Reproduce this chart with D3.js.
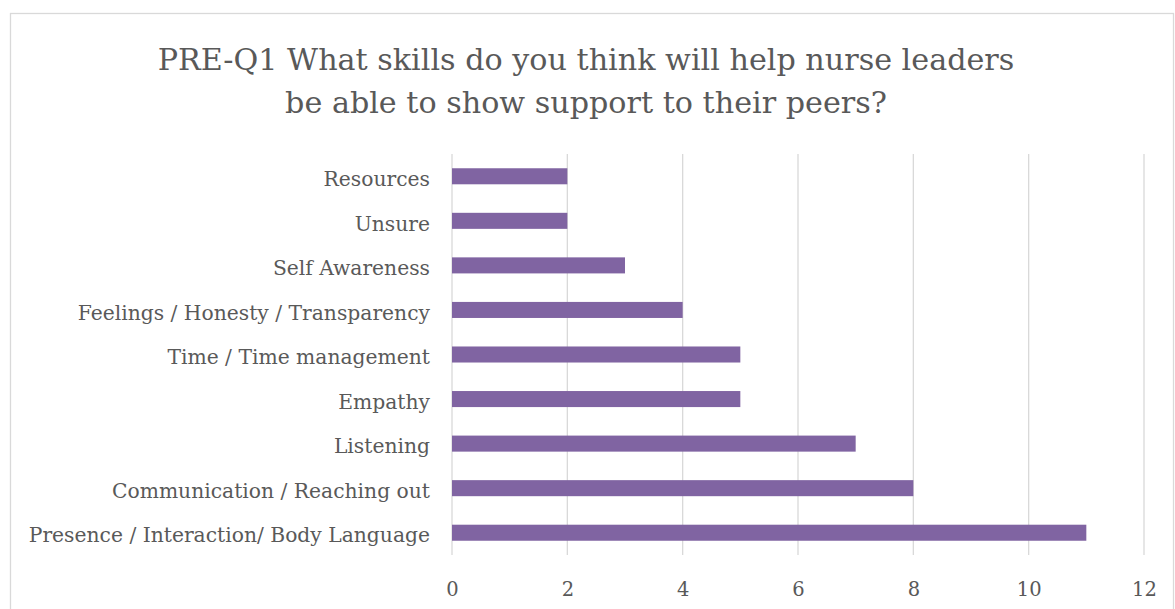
<!DOCTYPE html>
<html>
<head>
<meta charset="utf-8">
<script src="https://cdn.jsdelivr.net/npm/d3@7"></script>
<style>
  body { margin: 0; background: #fff; }
  svg text { font-family: "DejaVu Serif", serif; fill: #595959; }
</style>
</head>
<body>
<svg id="chart" width="1175" height="609"></svg>
<script>
// categories top to bottom, as shown
const categories = [
  'Resources',
  'Unsure',
  'Self Awareness',
  'Feelings / Honesty / Transparency',
  'Time / Time management',
  'Empathy',
  'Listening',
  'Communication / Reaching out',
  'Presence / Interaction/ Body Language'
];
const counts = [2, 2, 3, 4, 5, 5, 7, 8, 11];
const xTicks = [0, 2, 4, 6, 8, 10, 12];
const titleLines = [
  'PRE-Q1 What skills do you think will help nurse leaders',
  'be able to show support to their peers?'
];

const svg = d3.select('#chart');
const W = 1175, H = 609;
const margin = { top: 154, right: 31, bottom: 54, left: 452 };
const innerW = W - margin.left - margin.right;
const innerH = H - margin.top - margin.bottom;

// chart border
svg.append('rect')
  .attr('x', 10.5).attr('y', 13.5)
  .attr('width', W - 12).attr('height', H)
  .attr('fill', 'none')
  .attr('stroke', '#d9d9d9')
  .attr('stroke-width', 1.3);

// title
svg.append('text')
  .attr('text-anchor', 'middle')
  .style('font-size', '30.2px')
  .selectAll('tspan')
  .data(titleLines)
  .enter().append('tspan')
  .attr('x', 586)
  .attr('y', (d, i) => 70 + i * 43)
  .text(d => d);

const g = svg.append('g').attr('transform', `translate(${margin.left},${margin.top})`);

const x = d3.scaleLinear().domain([0, 12]).range([0, innerW]);
const y = d3.scaleBand().domain(categories).range([0, innerH]).paddingInner(0.64).paddingOuter(0.32);

// gridlines
g.append('g')
  .selectAll('line')
  .data(xTicks)
  .enter().append('line')
  .attr('x1', d => x(d)).attr('x2', d => x(d))
  .attr('y1', 0).attr('y2', innerH)
  .attr('stroke', '#d9d9d9')
  .attr('stroke-width', 1.3);

// bars
g.selectAll('.bar')
  .data(categories)
  .enter().append('rect')
  .attr('class', 'bar')
  .attr('x', x(0))
  .attr('y', d => y(d))
  .attr('width', (d, i) => x(counts[i]) - x(0))
  .attr('height', y.bandwidth())
  .attr('fill', '#8064a2');

// category axis
const yAxis = g.append('g').call(d3.axisLeft(y).tickSize(0).tickPadding(22));
yAxis.select('.domain').remove();
yAxis.selectAll('text')
  .attr('dy', '0.48em')
  .style('font-size', '20.3px').style('fill', '#595959');

// value axis
const xAxis = g.append('g')
  .attr('transform', `translate(0,${innerH})`)
  .call(d3.axisBottom(x).tickValues(xTicks).tickSize(0).tickPadding(27));
xAxis.select('.domain').remove();
xAxis.selectAll('text').style('font-size', '19.5px').style('fill', '#595959');
</script>
</body>
</html>
